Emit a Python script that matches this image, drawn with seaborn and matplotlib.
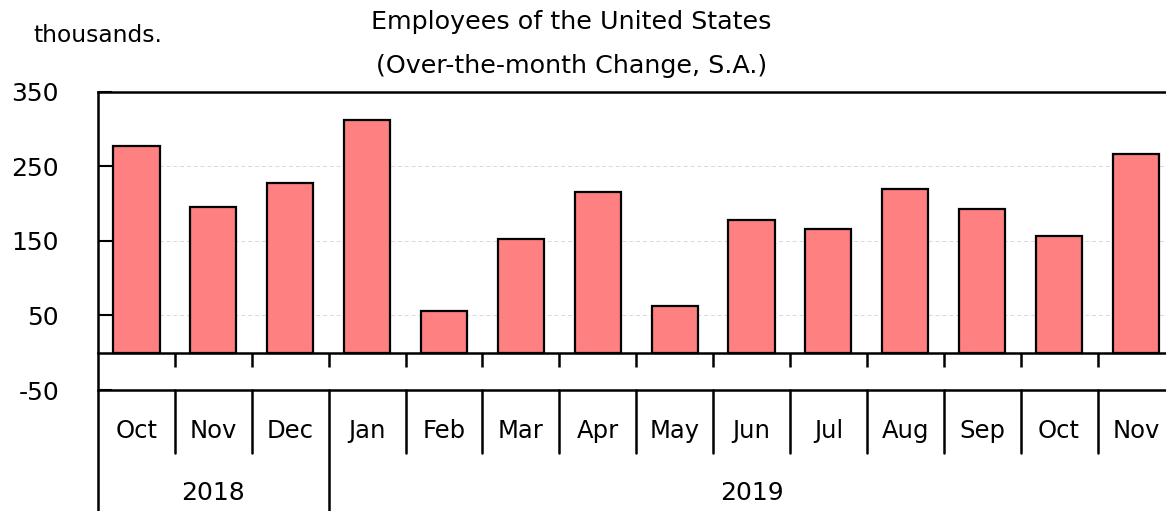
import matplotlib
matplotlib.use("Agg")
import matplotlib.pyplot as plt
import matplotlib.transforms as mtransforms
import seaborn as sns
import pandas as pd

# ---- data ----
months = ["Oct", "Nov", "Dec", "Jan", "Feb", "Mar", "Apr", "May",
          "Jun", "Jul", "Aug", "Sep", "Oct", "Nov"]
years = ["2018"] * 3 + ["2019"] * 11
changes = [277, 196, 227, 312, 56, 153, 216, 62, 178, 166, 219, 193, 156, 266]
yticks = [-50, 50, 150, 250, 350]

df = pd.DataFrame({"period": [f"{y}-{i:02d}" for i, y in enumerate(years)],
                   "change": changes})

sns.set_theme(style="white")
plt.rcParams["font.family"] = ["DejaVu Sans"]
plt.rcParams["text.color"] = "black"
plt.rcParams["xtick.color"] = "black"
plt.rcParams["ytick.color"] = "black"

fig = plt.figure(figsize=(11.66, 5.11), dpi=100)
ax = fig.add_axes([98 / 1166, (511 - 390) / 511, (1174.4 - 98) / 1166, (390 - 91.7) / 511])

sns.barplot(data=df, x="period", y="change", ax=ax, color="#FF8080",
            edgecolor="black", linewidth=1.6, width=0.6, saturation=1)

n = len(months)
ax.set_xlim(-0.5, n - 0.5)
ax.set_ylim(-50, 350)
ax.set_xlabel("")
ax.set_ylabel("")

# y axis
ax.set_yticks(yticks)
ax.set_yticklabels([str(v) for v in yticks], fontsize=18, color="black")
ax.tick_params(axis="y", direction="in", length=10, width=1.5, pad=28, left=True,
               labelleft=True, labelcolor="black")
ax.yaxis.grid(True, linestyle=(0, (4, 3)), color="#d8d8d8", linewidth=0.7)
ax.set_axisbelow(True)

# x axis at zero with downward ticks at category boundaries
ax.spines["bottom"].set_position(("data", 0))
for s in ["bottom", "left", "top", "right"]:
    ax.spines[s].set_color("black")
    ax.spines[s].set_linewidth(1.8)
ax.set_xticks([i + 0.5 for i in range(n - 1)])
ax.set_xticklabels([])
ax.tick_params(axis="x", direction="out", length=10, width=1.8, bottom=True, color="black")

# line at -50
ax.axhline(-50, color="black", linewidth=1.8, clip_on=False, zorder=5)

# category table below
trans = mtransforms.blended_transform_factory(ax.transData, ax.transAxes)
row1 = -63 / 298.3
row2 = -130 / 298.3
for i in range(n):
    ax.text(i, -41 / 298.3, months[i], transform=trans, ha="center", va="center",
            fontsize=17.5, color="black")
for i in range(1, n):
    if years[i] != years[i - 1]:
        ax.plot([i - 0.5, i - 0.5], [0, row2], transform=trans, color="black",
                linewidth=1.8, clip_on=False)
    else:
        ax.plot([i - 0.5, i - 0.5], [0, row1], transform=trans, color="black",
                linewidth=1.8, clip_on=False)
ax.plot([-0.5, -0.5], [0, row2], transform=trans, color="black", linewidth=1.8,
        clip_on=False)

# year labels
uniq = []
for y in years:
    if y not in uniq:
        uniq.append(y)
for y in uniq:
    idx = [i for i, v in enumerate(years) if v == y]
    ax.text((idx[0] + idx[-1]) / 2, -103 / 298.3, y, transform=trans, ha="center",
            va="center", fontsize=18, color="black")

# titles
fig.text(571.5 / 1166, 1 - 22 / 511, "Employees of the United States", ha="center",
         va="center", fontsize=18.3, color="black")
fig.text(571.5 / 1166, 1 - 66 / 511, "(Over-the-month Change, S.A.)", ha="center",
         va="center", fontsize=18.3, color="black")
fig.text(33 / 1166, 1 - 36 / 511, "thousands.", ha="left", va="center", fontsize=16.8,
         color="black")

fig.savefig("out.png", dpi=100)
